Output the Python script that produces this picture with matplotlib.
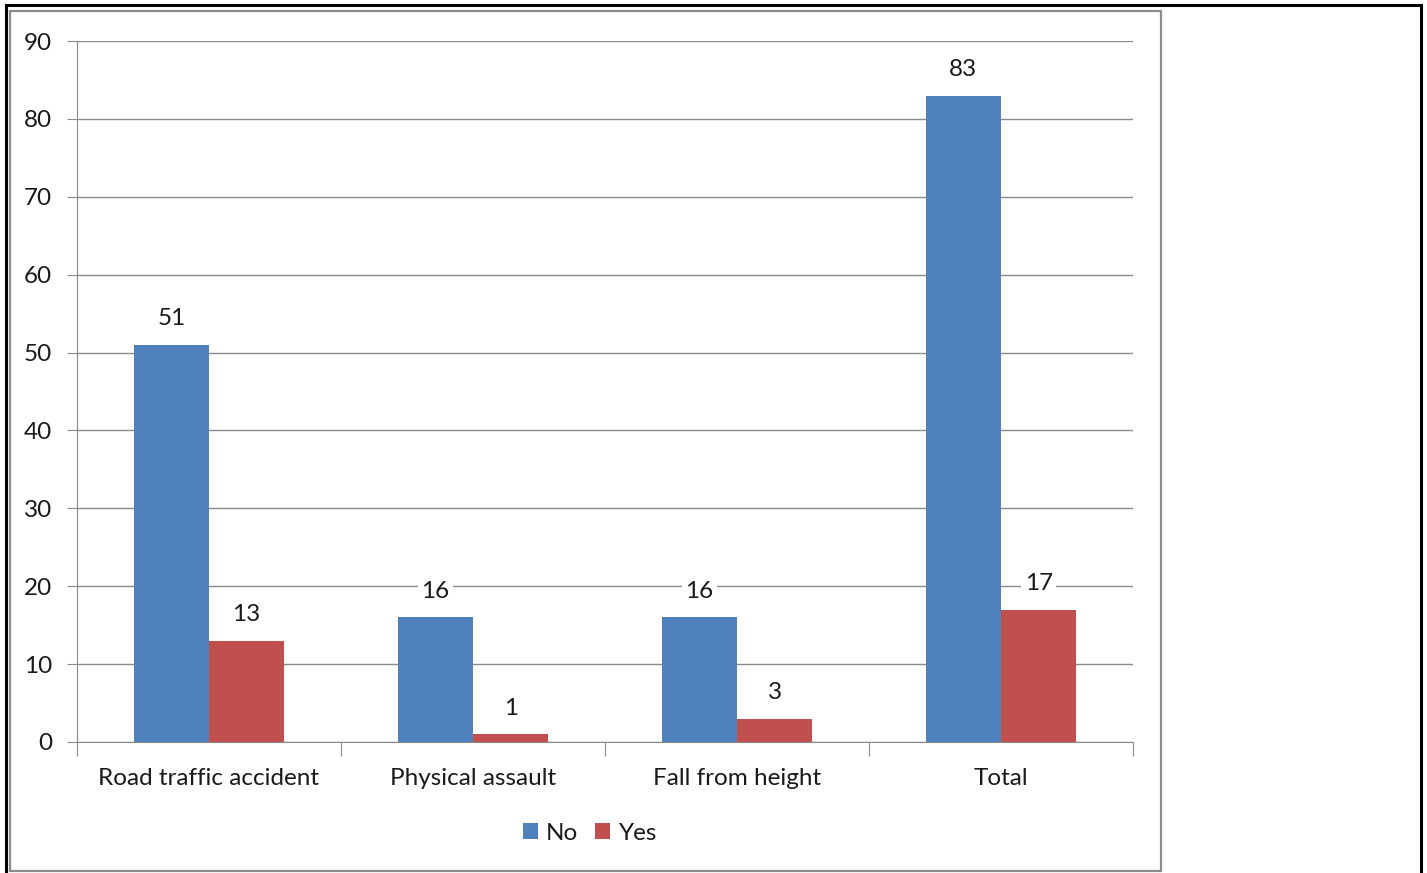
import matplotlib
matplotlib.use("Agg")
import matplotlib.pyplot as plt
from matplotlib.patches import Rectangle
from matplotlib.lines import Line2D
import numpy as np

plt.rcParams['font.family'] = ['Lato', 'DejaVu Sans']

categories = ["Road traffic accident", "Physical assault", "Fall from height", "Total"]
no_vals = [51, 16, 16, 83]
yes_vals = [13, 1, 3, 17]
series_names = ["No", "Yes"]
yticks = list(range(0, 91, 10))

W, H = 1427, 873
fig = plt.figure(figsize=(W / 100, H / 100), dpi=100)

def fx(px):
    return px / W

def fy(py):
    return 1 - py / H

# borders
fig.add_artist(Line2D([fx(6), fx(1421)], [fy(5), fy(5)], color='black', lw=2.2, transform=fig.transFigure))
fig.add_artist(Line2D([fx(6), fx(6)], [fy(5), fy(873)], color='black', lw=2.2, transform=fig.transFigure))
fig.add_artist(Line2D([fx(1421), fx(1421)], [fy(5), fy(873)], color='black', lw=2.2, transform=fig.transFigure))
fig.add_artist(Rectangle((fx(9.5), fy(871)), fx(1161.5) - fx(9.5), fy(11) - fy(871),
                         fill=False, edgecolor='#8c8c8c', lw=1.6, transform=fig.transFigure))

ax = fig.add_axes([fx(77), fy(742), fx(1133) - fx(77), fy(41) - fy(742)])
ax.set_xlim(0, 4)
ax.set_ylim(0, 90)

x = np.arange(len(categories)) + 0.5
bw = 0.285
blue = '#4F81BD'
red = '#C0504D'
b1 = ax.bar(x - bw / 2, no_vals, bw, color=blue, label=series_names[0], zorder=3)
b2 = ax.bar(x + bw / 2, yes_vals, bw, color=red, label=series_names[1], zorder=3)

fs = 17.5
for bars, vals in ((b1, no_vals), (b2, yes_vals)):
    for rect, v in zip(bars, vals):
        ax.annotate(str(v), (rect.get_x() + rect.get_width() / 2, v),
                    xytext=(0, 26), textcoords='offset pixels', ha='center', va='center',
                    fontsize=fs, color='#1a1a1a', zorder=4,
                    bbox=dict(boxstyle='square,pad=0.15', fc='white', ec='none'))

ax.set_yticks(yticks)
ax.yaxis.grid(True, color='#8a8a8a', lw=1.0, zorder=0)
ax.set_axisbelow(True)
ax.tick_params(axis='y', length=7, color='#8a8a8a', labelsize=fs, pad=11, labelcolor='#1a1a1a')

ax.set_xticks([0, 1, 2, 3, 4])
ax.set_xticklabels([])
ax.set_xticks(x, minor=True)
ax.set_xticklabels(categories, minor=True)
ax.tick_params(axis='x', which='major', length=10, color='#8a8a8a', direction='out')
ax.tick_params(axis='x', which='minor', length=0, labelsize=fs, pad=18.5, labelcolor='#1a1a1a')

for s in ['top', 'right']:
    ax.spines[s].set_visible(False)
ax.spines['left'].set_color('#8a8a8a')
ax.spines['bottom'].set_color('#8a8a8a')

fig.legend(handles=[b1, b2], labels=series_names, loc='center',
           bbox_to_anchor=(fx(590), fy(833)), ncol=2, frameon=False,
           fontsize=fs, handlelength=0.6, handleheight=0.6, handletextpad=0.35,
           columnspacing=0.7, labelcolor='#1a1a1a')

fig.savefig('out.png', dpi=100)
